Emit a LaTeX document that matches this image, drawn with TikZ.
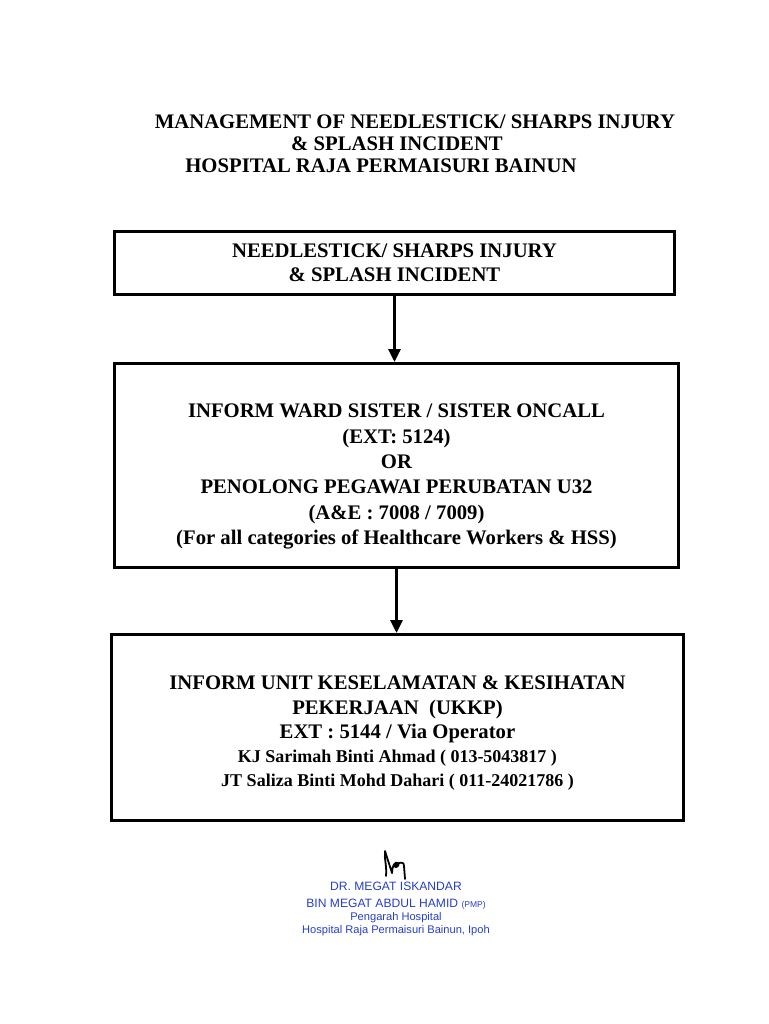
\documentclass[tikz,border=0pt]{standalone}
\usepackage{fontspec}
\setmainfont{Liberation Serif}
\newfontfamily\signfont{Liberation Sans}
\usetikzlibrary{arrows.meta, positioning}
\definecolor{signblue}{RGB}{38,62,196}
\tikzstyle{flowbox} = [draw, line width=3pt, rectangle, align=center, font=\bfseries\fontsize{20.7}{25.4}\selectfont]
\tikzstyle{headline} = [anchor=base, inner sep=0pt, font=\bfseries\fontsize{20.7}{22}\selectfont]
\tikzstyle{signtext} = [text=signblue, anchor=base, inner sep=0pt, font=\signfont\fontsize{12.1}{13}\selectfont]
\tikzstyle{flowarrow} = [line width=3pt, -{Triangle[width=12pt,length=13pt]}]

\begin{document}
\begin{tikzpicture}[x=1pt, y=-1pt]
	\useasboundingbox (0,0) rectangle (768,1024);
	\node[headline] (title1) at (415,129) {MANAGEMENT OF NEEDLESTICK/ SHARPS INJURY};
	\node[headline] (title2) at (397,150.5) {\& SPLASH INCIDENT};
	\node[headline] (title3) at (381,173) {HOSPITAL RAJA PERMAISURI BAINUN};

	\node[flowbox, minimum width=560pt, minimum height=63pt] (injury) at (394.5,263) {%
		NEEDLESTICK/ SHARPS INJURY\\[-1pt]
		\& SPLASH INCIDENT};
	\node[flowbox, minimum width=564pt, minimum height=204pt, below=66pt of injury, xshift=2pt] (ward) {%
		\rule{0pt}{36pt}INFORM WARD SISTER / SISTER ONCALL\\
		(EXT: 5124)\\
		OR\\
		PENOLONG PEGAWAI PERUBATAN U32\\
		(A\&E : 7008 / 7009)\\
		(For all categories of Healthcare Workers \& HSS)};
	\node[flowbox, minimum width=572pt, minimum height=186pt, below=64pt of ward, xshift=1pt] (ukkp) {%
		\rule{0pt}{25pt}INFORM UNIT KESELAMATAN \& KESIHATAN\\[-1pt]
		PEKERJAAN\ \ (UKKP)\\[-1pt]
		EXT : 5144 / Via Operator\\[-1pt]
		\fontsize{18}{24}\selectfont KJ Sarimah Binti Ahmad ( 013-5043817 )\\[-2pt]
		\fontsize{18}{24}\selectfont JT Saliza Binti Mohd Dahari ( 011-24021786 )};

	\draw[flowarrow] (injury.south) -- (injury.south |- ward.north);
	\draw[flowarrow] (ward.south) -- (ward.south |- ukkp.north);

	% signature
	\draw[line width=1.8pt, line cap=round, line join=round]
		(386,876) .. controls (387,866) and (384,858) .. (385,851)
		-- (392,873) .. controls (392,866) and (395,861) .. (398,863)
		.. controls (400,865) and (396,869) .. (394,866)
		.. controls (398,862) and (405,861) .. (404,866)
		-- (405,879);
	\node[signtext] (sign1) at (396,890) {DR. MEGAT ISKANDAR};
	\node[signtext] (sign2) at (396,907) {BIN MEGAT ABDUL HAMID {\fontsize{8.5}{9}\selectfont(PMP)}};
	\node[signtext, font=\signfont\fontsize{11.1}{12}\selectfont] (sign3) at (396,920) {Pengarah Hospital};
	\node[signtext, font=\signfont\fontsize{11.1}{12}\selectfont] (sign4) at (396,933) {Hospital Raja Permaisuri Bainun, Ipoh};
\end{tikzpicture}
\end{document}
